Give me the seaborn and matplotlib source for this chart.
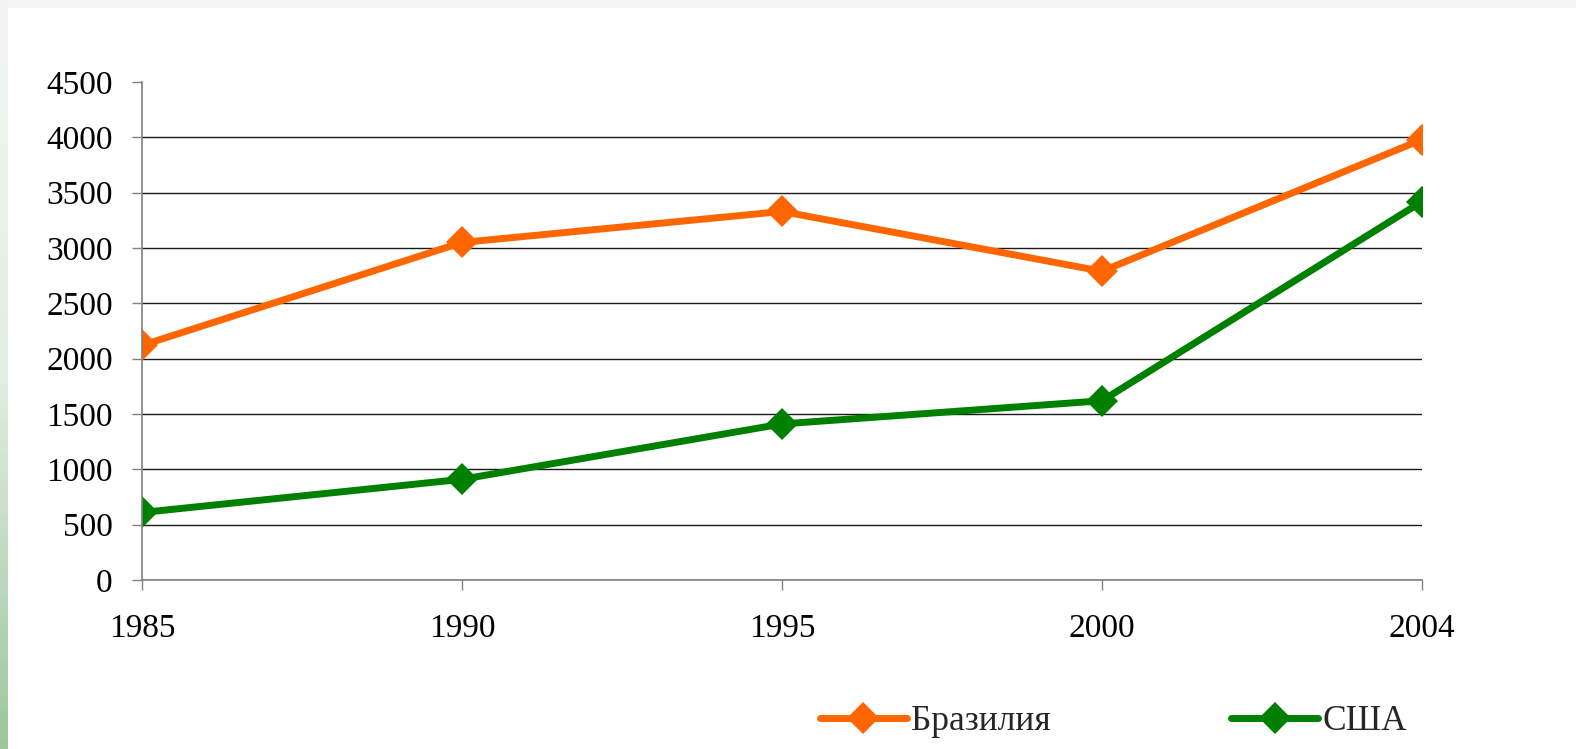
import numpy as np
import pandas as pd
import seaborn as sns
from matplotlib import pyplot as plt
from matplotlib.colors import LinearSegmentedColormap

# data
years = ['1985', '1990', '1995', '2000', '2004']
brazil = [2120, 3050, 3330, 2790, 3980]
usa = [610, 910, 1410, 1620, 3420]
series_names = ['Бразилия', 'США']
series_colors = ['#ff6600', '#008000']

df = pd.DataFrame({
    'year': years * 2,
    'value': brazil + usa,
    'country': [series_names[0]] * len(years) + [series_names[1]] * len(years),
})

sns.set_theme(style='white')
plt.rcParams['font.family'] = ['Liberation Serif', 'DejaVu Serif']

fig = plt.figure(figsize=(15.76, 7.49), dpi=100)
fig.patch.set_facecolor('white')

# decorative slide edges: light strip on top, green gradient on the left
top = fig.add_axes([0, 1 - 8 / 749, 1, 8 / 749])
top.set_axis_off()
top.add_patch(plt.Rectangle((0, 0), 1, 1, color='#f4f6f4', transform=top.transAxes))
left = fig.add_axes([0, 0, 8 / 1576, 1])
grad = np.linspace(0, 1, 256).reshape(-1, 1)
cmap = LinearSegmentedColormap.from_list('edge', ['#f4f6f4', '#e2eee2', '#9cc79c'])
left.imshow(grad, aspect='auto', cmap=cmap, extent=[0, 1, 0, 1], origin='upper')
left.set_axis_off()

ax = fig.add_axes([142 / 1576, 1 - 580 / 749, 1280 / 1576, 498 / 749])
sns.lineplot(data=df, x='year', y='value', hue='country', palette=series_colors,
             marker='D', markersize=16, markeredgewidth=0, linewidth=5,
             ax=ax, legend=False, sort=False)

ax.set_xlim(0, len(years) - 1)
ax.set_ylim(0, 4500)
ax.set_yticks(range(0, 4501, 500))
ax.set_xlabel('')
ax.set_ylabel('')
ax.grid(axis='y', color='#1a1a1a', linewidth=1)
ax.grid(axis='x', visible=False)
ax.get_ygridlines()[-1].set_visible(False)
for s in ['top', 'right']:
    ax.spines[s].set_visible(False)
for s in ['left', 'bottom']:
    ax.spines[s].set_color('#808080')
    ax.spines[s].set_linewidth(1.2)
ax.tick_params(axis='y', left=True, length=7, width=1, color='#808080', pad=14, labelsize=24)
ax.tick_params(axis='x', bottom=True, length=7, width=1, color='#808080', pad=17, labelsize=24)
for t in ax.get_xticklabels() + ax.get_yticklabels():
    t.set_color('black')

handles = [plt.Line2D([], [], color=c, lw=5, marker='D', markersize=16, markeredgewidth=0,
                      solid_capstyle='round') for c in series_colors]
fig.legend(handles, series_names, loc='center left', bbox_to_anchor=(820 / 1576, 1 - 722 / 749),
           ncol=2, frameon=False, fontsize=25.5, handlelength=2.45, handletextpad=0.12,
           columnspacing=5.1, borderaxespad=0, borderpad=0)

fig.savefig('out.png', dpi=100, facecolor='white')
